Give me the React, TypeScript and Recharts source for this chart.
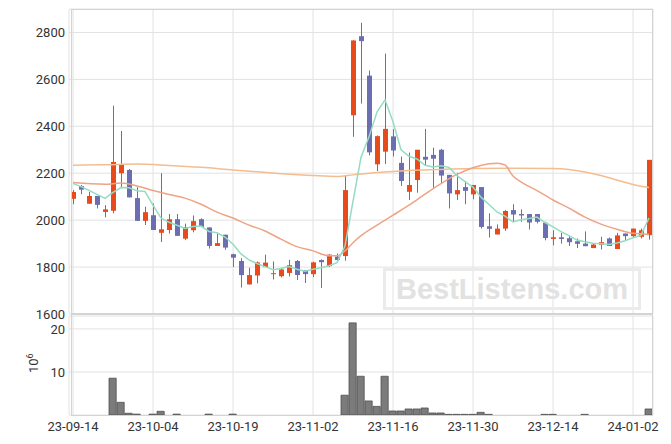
import { ComposedChart, Bar, Line, XAxis, YAxis, CartesianGrid } from "recharts";

const DATES = [
  "23-09-14", "23-09-15", "23-09-18", "23-09-19", "23-09-20", "23-09-21", "23-09-22", "23-09-25", "23-09-26", "23-09-27",
  "23-10-04", "23-10-05", "23-10-06", "23-10-10", "23-10-11", "23-10-12", "23-10-13", "23-10-16", "23-10-17", "23-10-18",
  "23-10-19", "23-10-20", "23-10-23", "23-10-24", "23-10-25", "23-10-26", "23-10-27", "23-10-30", "23-10-31", "23-11-01",
  "23-11-02", "23-11-03", "23-11-06", "23-11-07", "23-11-08", "23-11-09", "23-11-10", "23-11-13", "23-11-14", "23-11-15",
  "23-11-16", "23-11-17", "23-11-20", "23-11-21", "23-11-22", "23-11-23", "23-11-24", "23-11-27", "23-11-28", "23-11-29",
  "23-11-30", "23-12-01", "23-12-04", "23-12-05", "23-12-06", "23-12-07", "23-12-08", "23-12-11", "23-12-12", "23-12-13",
  "23-12-14", "23-12-15", "23-12-18", "23-12-19", "23-12-20", "23-12-21", "23-12-22", "23-12-26", "23-12-27", "23-12-28",
  "24-01-02", "24-01-03", "24-01-04",
];
const TICKS = ["23-09-14", "23-10-04", "23-10-19", "23-11-02", "23-11-16", "23-11-30", "23-12-14", "24-01-02"];

const OPEN = [
  2091, 2145, 2070, 2103, 2035, 2040, 2200, 2214, 2094, 1997, 2021, 1946, 1958, 2004, 1921, 1957, 2004, 1969, 1890, 1938,
  1855, 1826, 1726, 1764, 1800, 1770, 1761, 1775, 1826, 1787, 1770, 1830, 1804, 1845, 1847, 2447, 2784, 2616, 2238, 2292,
  2357, 2244, 2121, 2171, 2270, 2278, 2300, 2193, 2110, 2141, 2110, 2141, 1974, 1939, 1964, 2043, 2026, 2026, 2026, 1989,
  1920, 1927, 1923, 1910, 1900, 1881, 1895, 1922, 1877, 1943, 1932, 1929, 1936,
];
const CLOSE = [
  2120, 2130, 2103, 2065, 2046, 2248, 2235, 2097, 1997, 2034, 1958, 1961, 2004, 1933, 1970, 1996, 1971, 1890, 1902, 1883,
  1840, 1766, 1766, 1820, 1819, 1774, 1790, 1808, 1766, 1770, 1820, 1821, 1853, 1830, 2128, 2766, 2763, 2289, 2358, 2389,
  2297, 2167, 2150, 2300, 2258, 2262, 2190, 2114, 2128, 2125, 2150, 1971, 1963, 1964, 2039, 2024, 2020, 1990, 1993, 1924,
  1927, 1920, 1906, 1899, 1889, 1896, 1906, 1890, 1935, 1932, 1964, 1957, 2257,
];
const HIGH = [
  2128, 2150, 2121, 2103, 2064, 2488, 2380, 2218, 2140, 2057, 2071, 2200, 2026, 2026, 1985, 2020, 2008, 1969, 1943, 1938,
  1857, 1838, 1797, 1824, 1853, 1824, 1797, 1831, 1830, 1787, 1823, 1833, 1855, 1858, 2190, 2766, 2841, 2638, 2361, 2710,
  2388, 2271, 2288, 2300, 2389, 2309, 2304, 2193, 2202, 2167, 2150, 2141, 2029, 1982, 2043, 2068, 2046, 2026, 2026, 1993,
  1957, 1946, 1934, 1922, 1952, 1902, 1929, 1926, 1946, 1943, 1964, 1964, 2257,
];
const LOW = [
  2068, 2111, 2070, 2050, 2012, 2029, 2140, 2097, 1997, 1979, 1958, 1907, 1943, 1933, 1915, 1948, 1971, 1879, 1890, 1874,
  1800, 1713, 1726, 1731, 1800, 1747, 1756, 1760, 1745, 1732, 1757, 1711, 1800, 1820, 1827, 2355, 2497, 2276, 2209, 2239,
  2271, 2146, 2086, 2117, 2235, 2138, 2157, 2050, 2086, 2068, 2089, 1964, 1926, 1939, 1954, 1993, 1993, 1960, 1986, 1914,
  1893, 1900, 1890, 1881, 1889, 1881, 1875, 1890, 1877, 1914, 1926, 1922, 1917,
];
// volume in millions
const VOLUME = [
  0, 0, 0, 0, 0, 8.55, 2.95, 0.4, 0.2, 0, 0.2, 0.86, 0, 0.2, 0, 0, 0, 0.2, 0, 0,
  0.2, 0, 0, 0, 0, 0, 0, 0, 0, 0, 0, 0, 0, 0, 4.6, 21.4, 9.0, 3.26, 2.0, 9.0,
  0.93, 0.93, 1.4, 1.4, 1.63, 0.47, 0.47, 0.15, 0.15, 0.15, 0.15, 0.62, 0.15, 0, 0, 0, 0, 0, 0, 0.15,
  0.15, 0, 0, 0, 0.15, 0, 0, 0, 0, 0, 0, 0, 1.4,
];
const MA5 = [
  2157, 2143, 2127, 2110, 2093, 2118, 2139, 2138, 2125, 2122, 2064, 2009, 1991, 1978, 1965, 1973, 1975, 1952, 1946, 1928,
  1897, 1856, 1831, 1815, 1802, 1789, 1794, 1802, 1791, 1782, 1791, 1797, 1806, 1819, 1890, 2080, 2268, 2355, 2461, 2513,
  2419, 2300, 2272, 2261, 2234, 2227, 2232, 2225, 2190, 2164, 2141, 2098, 2067, 2035, 2017, 1992, 2002, 2007, 2013, 1990,
  1971, 1951, 1934, 1915, 1908, 1902, 1899, 1896, 1903, 1912, 1925, 1936, 2009,
];
const MA20_AT = [0, 4, 6, 8, 10, 12, 14, 16, 18, 20, 22, 24, 26, 28, 30, 32, 33, 34, 35, 36, 38, 40, 42, 44, 46, 48, 50, 52, 53, 54, 55, 56, 58, 60, 62, 64, 66, 68, 70, 72];
const MA20 = [
  2160, 2153, 2158, 2146, 2126, 2109, 2094, 2068, 2034, 2009, 1979, 1954, 1919, 1887, 1869, 1848, 1848, 1869, 1904, 1934,
  1979, 2021, 2064, 2111, 2156, 2195, 2223, 2240, 2243, 2235, 2188, 2163, 2126, 2086, 2051, 2013, 1983, 1961, 1944, 1940,
];
const MA60_AT = [0, 4, 8, 12, 16, 20, 25, 30, 33, 35, 38, 42, 46, 50, 55, 60, 62, 64, 66, 68, 70, 72];
const MA60 = [2234, 2236, 2239, 2233, 2225, 2214, 2201, 2190, 2186, 2193, 2203, 2212, 2216, 2220, 2221, 2220, 2216, 2205, 2190, 2171, 2152, 2139];

const UP = "#e84a1c";
const DOWN = "#6b6fb1";
const FONT = "Roboto, sans-serif";
const tickStyle = { fill: "#333", fontSize: 13, fontFamily: FONT };

const rows = DATES.map((date, i) => ({
  date,
  open: OPEN[i],
  close: CLOSE[i],
  high: HIGH[i],
  low: LOW[i],
  vol: VOLUME[i],
  ma5: MA5[i],
  ma20: null as number | null,
  ma60: null as number | null,
}));
MA20_AT.forEach((k, j) => (rows[k].ma20 = MA20[j]));
MA60_AT.forEach((k, j) => (rows[k].ma60 = MA60[j]));

function Candle(props: any) {
  const { x, y, width, height, payload } = props;
  if (!payload) return null;
  const { open, close, high, low } = payload;
  const top = Math.min(y, y + height);
  const h = Math.abs(height);
  const per = h / (high - low || 1);
  const py = (v: number) => top + (high - v) * per;
  const cx = x + width / 2;
  const color = close >= open ? UP : DOWN;
  const bodyTop = py(Math.max(open, close));
  const bodyH = Math.max(1, Math.abs(py(open) - py(close)));
  return (
    <g>
      <line x1={cx} x2={cx} y1={top} y2={top + h} stroke={color} strokeWidth={1} />
      <rect x={cx - 2.5} y={bodyTop} width={5} height={bodyH} fill={color} />
    </g>
  );
}

export default function App() {
  return (
    <div style={{ position: "absolute", left: 0, top: 0, width: 671, height: 444, background: "#fff", overflow: "hidden" }}>
      <div style={{ position: "absolute", left: 0, top: 0 }}>
        {/* taller than the plot so the 1600 label is not clipped */}
        <ComposedChart width={671} height={324} data={rows} margin={{ top: 9, right: 18, bottom: 10, left: 9 }}>
          <CartesianGrid stroke="#e2e2e2" strokeWidth={1} />
          <XAxis dataKey="date" hide ticks={TICKS} />
          <YAxis
            domain={[1600, 2900]}
            ticks={[1600, 1800, 2000, 2200, 2400, 2600, 2800]}
            allowDataOverflow
            width={60}
            axisLine={false}
            tickLine={false}
            tickSize={4}
            tickMargin={0}
            tick={tickStyle}
          />
          <Bar dataKey={(d: any) => [d.low, d.high]} barSize={5} shape={Candle} isAnimationActive={false} />
          <Line dataKey="ma60" type="monotone" connectNulls dot={false} stroke="#f4bd90" strokeWidth={1.5} isAnimationActive={false} />
          <Line dataKey="ma20" type="monotone" connectNulls dot={false} stroke="#efa385" strokeWidth={1.5} isAnimationActive={false} />
          <Line dataKey="ma5" type="linear" dot={false} stroke="#94dcc3" strokeWidth={1.5} isAnimationActive={false} />
        </ComposedChart>
      </div>
      <div style={{ position: "absolute", left: 0, top: 314 }}>
        <ComposedChart width={671} height={130} data={rows} margin={{ top: 2, right: 18, bottom: 0, left: 9 }}>
          <CartesianGrid stroke="#e2e2e2" strokeWidth={1} />
          <XAxis
            dataKey="date"
            ticks={TICKS}
            interval={0}
            height={29}
            axisLine={false}
            tickLine={false}
            tickSize={6}
            tickMargin={1}
            tick={tickStyle}
          />
          <YAxis
            domain={[0, 23]}
            ticks={[10, 20]}
            allowDataOverflow
            width={60}
            axisLine={false}
            tickLine={false}
            tickSize={4}
            tickMargin={0}
            tick={tickStyle}
          />
          <Bar dataKey="vol" barSize={8} fill="#7b7b7b" stroke="#505050" strokeWidth={0.8} isAnimationActive={false} />
        </ComposedChart>
      </div>
      {/* panel frames */}
      <div style={{ position: "absolute", left: 71, top: 9, width: 580, height: 405, border: "1px solid #d4d4d4", pointerEvents: "none" }} />
      <div style={{ position: "absolute", left: 71, top: 313, width: 581, height: 2, background: "#d4d4d4", pointerEvents: "none" }} />
      <svg style={{ position: "absolute", left: 0, top: 0, pointerEvents: "none" }} width={671} height={444}>
        <text transform="translate(38,373) rotate(-90)" fill="#333" fontSize={13} fontFamily={FONT}>
          10
          <tspan dy={-5} fontSize={9}>6</tspan>
        </text>
      </svg>
      {/* watermark */}
      <div
        style={{
          position: "absolute",
          left: 383,
          top: 268,
          width: 252,
          height: 36,
          border: "3px solid #ebebeb",
          color: "#e2e2e2",
          fontFamily: "'Liberation Sans', Arial, sans-serif",
          fontWeight: "bold",
          fontSize: 29,
          lineHeight: "36px",
          textAlign: "center",
          pointerEvents: "none",
        }}
      >
        BestListens.com
      </div>
    </div>
  );
}
